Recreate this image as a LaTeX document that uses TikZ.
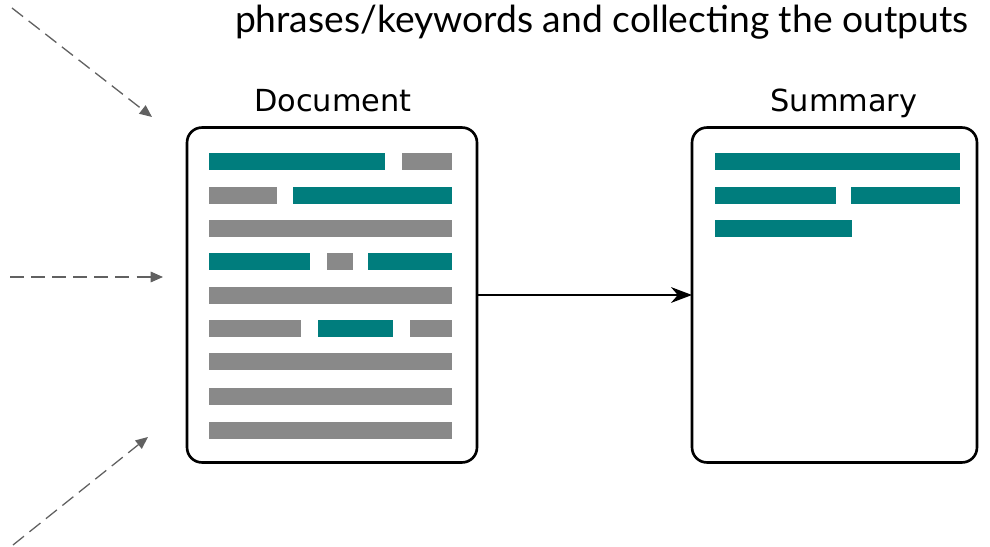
\documentclass[tikz,border=0pt]{standalone}
\usepackage{fontspec}
\setmainfont{Lato}
\newfontfamily\boxfont{DejaVu Sans}
\usetikzlibrary{arrows.meta,positioning}
\definecolor{hiteal}{RGB}{0,125,125}
\definecolor{txtgray}{RGB}{137,137,137}
\tikzstyle{page} = [draw, line width=1.5pt, rounded corners=8.5pt, minimum height=6.7cm]
\tikzstyle{feed} = [dash pattern=on 8pt off 4pt, draw=black!62, line width=0.75pt, -{Triangle[length=7pt,width=6pt]}]
\tikzstyle{arrow} = [line width=0.8pt, -{Stealth[length=12pt,width=9pt]}]
\newcommand{\txtbar}[4]{\fill[#1] (#2,#3) rectangle (#4,#3+17);}

\begin{document}
\begin{tikzpicture}[
        x=0.02cm, y=-0.02cm,
        every node/.style={inner sep=0pt, outer sep=0pt},
        lbl/.style={anchor=base, font=\boxfont\fontsize{17.3}{20}\selectfont}
        ]
    \useasboundingbox (0,0) rectangle (990,547);

    \node[anchor=base west, font=\fontsize{21.2}{25}\selectfont] (caption) at (235,33)
        {phrases/keywords and collecting the outputs};

    \node[page, minimum width=5.8cm] (doc) at (332,295) {};
    \node[page, minimum width=5.7cm] (summ) at (834.5,295) {};
    \node[lbl] (doclabel) at (333,112) {Document};
    \node[lbl] (summlabel) at (844,112) {Summary};

    % lines of the document
    \txtbar{hiteal}{209}{153}{385}
    \txtbar{txtgray}{402}{153}{452}
    \txtbar{txtgray}{209}{187}{277}
    \txtbar{hiteal}{293}{187}{452}
    \txtbar{txtgray}{209}{220}{452}
    \txtbar{hiteal}{209}{253}{310}
    \txtbar{txtgray}{327}{253}{353}
    \txtbar{hiteal}{368}{253}{452}
    \txtbar{txtgray}{209}{287}{452}
    \txtbar{txtgray}{209}{320}{301}
    \txtbar{hiteal}{318}{320}{393}
    \txtbar{txtgray}{410}{320}{452}
    \foreach \y in {353,388,422} {
        \txtbar{txtgray}{209}{\y}{452}
    }

    % lines of the summary
    \txtbar{hiteal}{715}{153}{960}
    \txtbar{hiteal}{715}{187}{836}
    \txtbar{hiteal}{851}{187}{960}
    \txtbar{hiteal}{715}{220}{852}

    \draw[arrow] (doc.east) -- (summ.west);

    % incoming pieces
    \coordinate (in1) at (12,8);
    \coordinate (to1) at (152,117);
    \coordinate (in2) at (10,277);
    \coordinate (to2) at (163,277);
    \coordinate (in3) at (13,545);
    \coordinate (to3) at (148,437);
    \draw[feed] (in1) -- (to1);
    \draw[feed] (in2) -- (to2);
    \draw[feed] (in3) -- (to3);
\end{tikzpicture}
\end{document}
